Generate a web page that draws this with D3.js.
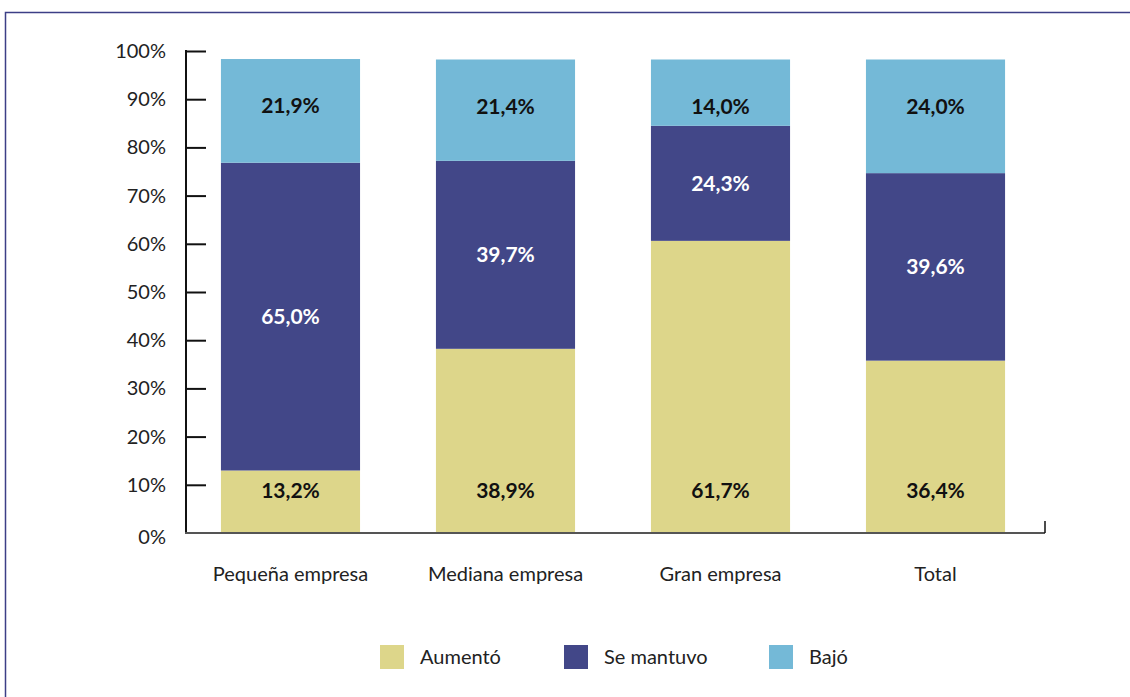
<!DOCTYPE html>
<html>
<head>
<meta charset="utf-8">
<script src="https://cdnjs.cloudflare.com/ajax/libs/d3/7.8.5/d3.min.js"></script>
<style>
  body { margin: 0; background: #fff; }
  text { font-family: Lato, "Noto Sans", sans-serif; }
</style>
</head>
<body>
<svg id="chart" width="1130" height="697"></svg>
<script>
const categories = ['Pequeña empresa', 'Mediana empresa', 'Gran empresa', 'Total']
const series = ['Aumentó', 'Se mantuvo', 'Bajó']
const aumento = [13.2, 38.9, 61.7, 36.4]
const seMantuvo = [65.0, 39.7, 24.3, 39.6]
const bajo = [21.9, 21.4, 14.0, 24.0]
const yTicks = [0, 10, 20, 30, 40, 50, 60, 70, 80, 90, 100]
const colors = ['#ddd68a', '#424788', '#74b9d7']

const rows = categories.map((c, i) => ({
    cat: c,
    'Aumentó': aumento[i],
    'Se mantuvo': seMantuvo[i],
    'Bajó': bajo[i]
}))

const fmt = v => d3.format('.1f')(v).replace('.', ',') + '%'

let svg = d3.select('#chart')

// outer frame
svg.append('rect')
    .attr('x', 5.5).attr('y', 12.5)
    .attr('width', 1200).attr('height', 800)
    .attr('fill', 'none')
    .attr('stroke', '#3c3f86')
    .attr('stroke-width', 1.5)

const x0 = 186, x1 = 1045, yBase = 533

let x = d3.scaleBand()
    .domain(categories)
    .range([x0, 1040])
    .paddingInner(0.353)
    .paddingOuter(0.1625)

// bars and axis ticks do not share the exact same scale in the original
let yBar = d3.scaleLinear().domain([0, 100]).range([yBase, 59.5])
let yAx = d3.scaleLinear().domain([0, 100]).range([yBase, 51])

let stack = d3.stack().keys(series)(rows)

let g = svg.append('g')

stack.forEach((layer, li) => {
    g.selectAll(null)
        .data(layer)
        .enter()
        .append('rect')
        .attr('x', d => x(d.data.cat))
        .attr('width', x.bandwidth())
        .attr('y', d => yBar(d[1]))
        .attr('height', d => yBar(d[0]) - yBar(d[1]))
        .attr('fill', colors[li])
})

// value labels
stack.forEach((layer, li) => {
    g.selectAll(null)
        .data(layer)
        .enter()
        .append('text')
        .attr('x', d => x(d.data.cat) + x.bandwidth() / 2)
        .attr('y', d => {
            if (li === 0) return yBase - 42
            if (li === 2) return yBar(d[1]) + 47
            return (yBar(d[0]) + yBar(d[1])) / 2
        })
        .attr('dy', '0.35em')
        .attr('text-anchor', 'middle')
        .style('font-size', '21px')
        .style('font-weight', 'bold')
        .attr('fill', li === 1 ? '#ffffff' : '#111111')
        .text(d => fmt(d[1] - d[0]))
})

// y axis
let yAxis = d3.axisRight(yAx)
    .tickValues(yTicks)
    .tickSize(20)
    .tickFormat(d => d + '%')

let ga = svg.append('g')
    .attr('transform', `translate(${x0},0)`)
    .call(yAxis)
ga.select('.domain').remove()
ga.selectAll('.tick line').attr('stroke', '#111').attr('stroke-width', 2)
ga.selectAll('.tick text')
    .attr('x', -20)
    .attr('text-anchor', 'end')
    .attr('fill', '#222')
    .style('font-size', '20px')
    .style('font-family', 'Lato, sans-serif')
ga.selectAll('.tick').filter(d => d === 0).select('line').remove()
ga.selectAll('.tick').filter(d => d === 0).select('text').attr('dy', '0.5em')

svg.append('line')
    .attr('x1', x0).attr('x2', x0)
    .attr('y1', yAx(100) - 1).attr('y2', yBase)
    .attr('stroke', '#111').attr('stroke-width', 2)

// baseline
svg.append('line')
    .attr('x1', x0 - 1).attr('x2', x1)
    .attr('y1', yBase).attr('y2', yBase)
    .attr('stroke', '#555').attr('stroke-width', 2)
svg.append('line')
    .attr('x1', x1).attr('x2', x1)
    .attr('y1', yBase).attr('y2', yBase - 12)
    .attr('stroke', '#111').attr('stroke-width', 1.5)

// category labels
let xAxis = d3.axisBottom(x).tickSize(0).tickPadding(0)
let gx = svg.append('g')
    .attr('transform', `translate(0,${yBase})`)
    .call(xAxis)
gx.select('.domain').remove()
gx.selectAll('.tick text')
    .attr('y', 48)
    .attr('dy', 0)
    .attr('fill', '#222')
    .style('font-size', '20px')
    .style('font-family', 'Lato, sans-serif')

// legend
const legendX = [380, 564, 769]
let lg = svg.append('g')
series.forEach((s, i) => {
    lg.append('rect')
        .attr('x', legendX[i]).attr('y', 645)
        .attr('width', 24).attr('height', 24)
        .attr('fill', colors[i])
    lg.append('text')
        .attr('x', legendX[i] + 40).attr('y', 664)
        .attr('fill', '#222')
        .style('font-size', '20px')
        .text(s)
})
</script>
</body>
</html>
